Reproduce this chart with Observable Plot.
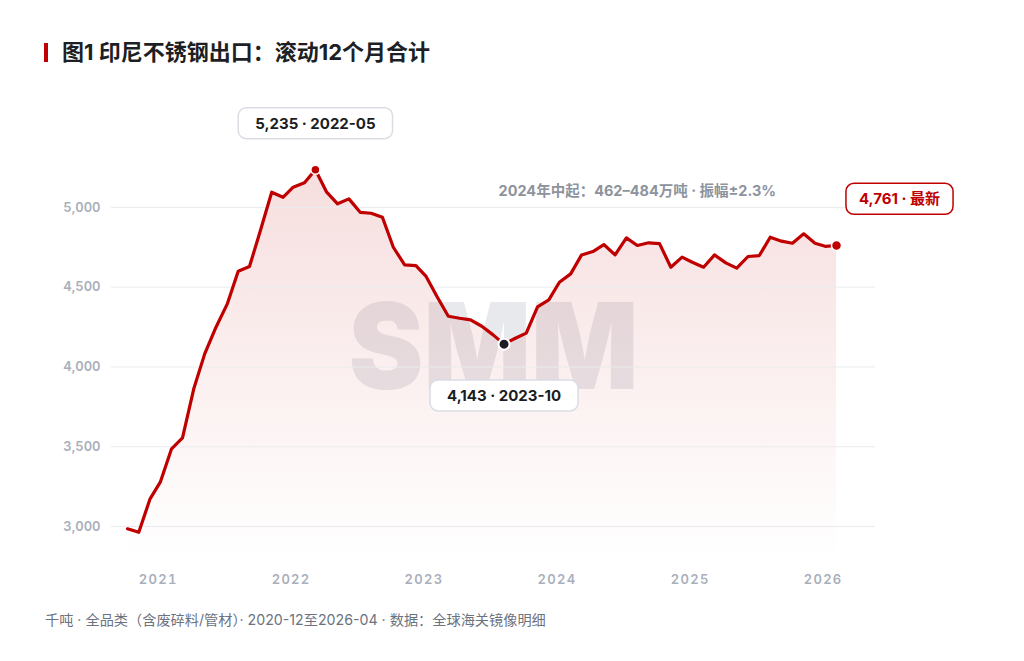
<!DOCTYPE html>
<html><head><meta charset="utf-8">
<script src="https://cdn.jsdelivr.net/npm/d3@7"></script>
<script src="https://cdn.jsdelivr.net/npm/@observablehq/plot@0.6"></script>
<style>
body{margin:0;background:#fff;width:1024px;height:661px;overflow:hidden;position:relative;font-family:Inter,"Noto Sans CJK SC",sans-serif;}
#title{position:absolute;left:62px;top:40px;font-size:22px;line-height:24px;font-weight:700;color:#1d1f24;font-family:Inter,"Noto Sans CJK SC",sans-serif;white-space:nowrap;}
#bar{position:absolute;left:44px;top:43px;width:4px;height:19px;background:#c00000;}
#caption{position:absolute;left:45px;top:610px;font-size:14.2px;line-height:20px;color:#6b7280;font-family:Inter,"Noto Sans CJK SC",sans-serif;white-space:nowrap;}
#chart{position:absolute;left:0;top:0;}
g[aria-label="x-axis tick label"] text{letter-spacing:1.3px;}
</style></head>
<body>
<div id="chart"></div>
<div id="bar"></div>
<div id="title">图1 印尼不锈钢出口：滚动12个月合计</div>
<div id="caption">千吨 · 全品类（含废碎料/管材）· 2020-12至2026-04 · 数据：全球海关镜像明细</div>
<script>
// ---- data ----
const months = ["2020-12","2021-01","2021-02","2021-03","2021-04","2021-05","2021-06","2021-07","2021-08","2021-09","2021-10","2021-11","2021-12",
"2022-01","2022-02","2022-03","2022-04","2022-05","2022-06","2022-07","2022-08","2022-09","2022-10","2022-11","2022-12",
"2023-01","2023-02","2023-03","2023-04","2023-05","2023-06","2023-07","2023-08","2023-09","2023-10","2023-11","2023-12",
"2024-01","2024-02","2024-03","2024-04","2024-05","2024-06","2024-07","2024-08","2024-09","2024-10","2024-11","2024-12",
"2025-01","2025-02","2025-03","2025-04","2025-05","2025-06","2025-07","2025-08","2025-09","2025-10","2025-11","2025-12",
"2026-01","2026-02","2026-03","2026-04"];
const values = [2986,2964,3174,3278,3487,3556,3863,4082,4249,4395,4600,4629,4855,
5095,5063,5126,5154,5235,5095,5022,5053,4969,4963,4938,4750,
4640,4635,4567,4437,4318,4305,4295,4255,4201,4143,4180,4212,
4376,4420,4531,4583,4702,4723,4767,4702,4809,4761,4778,4773,
4625,4688,4656,4625,4702,4652,4619,4692,4698,4813,4788,4775,
4834,4775,4756,4761];
const yTicks = [3000,3500,4000,4500,5000];
const xTickYears = ["2021","2022","2023","2024","2025","2026"];
const yDomain = [2800,5400];
const noteText = "2024年中起：462–484万吨 · 振幅±2.3%";
const noteAnchor = {month:"2024-10", value:5100};
const latestSuffix = "最新";
const watermark = "SMM";

// ---- build ----
const parse = d3.utcParse("%Y-%m");
const data = months.map((m,i)=>({date:parse(m), month:m, value:values[i]}));
const fmt = d3.format(",");
const peak = data.reduce((a,b)=>b.value>a.value?b:a);
const trough = data.filter(d=>d.date>peak.date).reduce((a,b)=>b.value<a.value?b:a);
const latest = data[data.length-1];
const note = [{date:parse(noteAnchor.month), value:noteAnchor.value, text:noteText}];
const yearTicks = xTickYears.map(y=>parse(y+"-01"));

const chart = Plot.plot({
  width:1024, height:661,
  marginLeft:111, marginRight:149, marginTop:143, marginBottom:103,
  x:{type:"utc", domain:[data[0].date, latest.date], insetLeft:16, insetRight:39},
  y:{domain:yDomain},
  style:{fontFamily:"Inter, 'Noto Sans CJK SC', sans-serif", background:"transparent", overflow:"visible"},
  marks:[
    Plot.text([watermark], {frameAnchor:"middle", text:d=>d, fontSize:120, fontWeight:900, fill:"#e8e9ec", ariaDescription:"watermark"}),
    Plot.areaY(data, {x:"date", y1:yDomain[0], y2:"value", fill:"url(#areaGrad)"}),
    Plot.gridY(yTicks, {stroke:"#e9ebee", strokeOpacity:1, strokeWidth:1}),
    Plot.axisY(yTicks, {tickSize:0, tickPadding:11, tickFormat:fmt, fontSize:13, fontWeight:600, fill:"#a9afbb", label:null}),
    Plot.axisX(yearTicks, {tickSize:0, tickPadding:16, tickFormat:d3.utcFormat("%Y"), textAnchor:"start", fontSize:13, fontWeight:600, fill:"#a9afbb", label:null}),
    Plot.lineY(data, {x:"date", y:"value", stroke:"#c00000", strokeWidth:3.2, strokeLinejoin:"round", strokeLinecap:"round"}),
    Plot.dot([peak], {x:"date", y:"value", r:4.5, fill:"#c00000", stroke:"#fff", strokeWidth:1.5}),
    Plot.dot([trough], {x:"date", y:"value", r:5.5, fill:"#1b1d22", stroke:"#fff", strokeWidth:2}),
    Plot.dot([latest], {x:"date", y:"value", r:5, fill:"#c00000", stroke:"#fff", strokeWidth:1.5}),
    Plot.text(note, {x:"date", y:"value", text:"text", fontSize:14.5, fontWeight:700, fill:"#8d939d"}),
    Plot.text([peak], {x:"date", y:"value", text:d=>`${fmt(d.value)} · ${d.month}`, dy:-46, fontSize:15, fontWeight:700, fill:"#1b1d22", ariaDescription:"peak-label"}),
    Plot.text([trough], {x:"date", y:"value", text:d=>`${fmt(d.value)} · ${d.month}`, dy:52, fontSize:15, fontWeight:700, fill:"#1b1d22", ariaDescription:"trough-label"}),
    Plot.text([latest], {x:"date", y:"value", text:d=>`${fmt(d.value)} · ${latestSuffix}`, dx:63, dy:-46, fontSize:15, fontWeight:700, fill:"#c00000", ariaDescription:"latest-label"})
  ]
});
document.getElementById("chart").append(chart);

// gradient defs
const ns = "http://www.w3.org/2000/svg";
const defs = d3.select(chart).insert("defs", ":first-child");
const grad = defs.append("linearGradient").attr("id","areaGrad").attr("x1",0).attr("y1",0).attr("x2",0).attr("y2",1);
grad.append("stop").attr("offset","0").attr("stop-color","#c00000").attr("stop-opacity",0.13);
grad.append("stop").attr("offset","1").attr("stop-color","#c00000").attr("stop-opacity",0);

// watermark width
chart.querySelectorAll('g[aria-description="watermark"] text').forEach(t=>{
  t.setAttribute("textLength", 290);
  t.setAttribute("lengthAdjust", "spacingAndGlyphs");
});

// label boxes
function box(label, stroke, padX, h){
  const g = chart.querySelector(`g[aria-description="${label}"]`);
  if(!g) return;
  g.querySelectorAll("text").forEach(t=>{
    const b = t.getBBox();
    const r = document.createElementNS(ns,"rect");
    const cy = b.y + b.height/2;
    r.setAttribute("x", b.x - padX);
    r.setAttribute("y", cy - h/2);
    r.setAttribute("width", b.width + 2*padX);
    r.setAttribute("height", h);
    r.setAttribute("rx", 8);
    r.setAttribute("fill", "#fff");
    r.setAttribute("stroke", stroke);
    r.setAttribute("stroke-width", 1.5);
    if(t.getAttribute("transform")) r.setAttribute("transform", t.getAttribute("transform"));
    g.insertBefore(r, t);
  });
}
box("peak-label", "#d9dde3", 17, 31);
box("trough-label", "#d9dde3", 17, 31);
box("latest-label", "#c00000", 13, 31);
</script>
</body></html>
